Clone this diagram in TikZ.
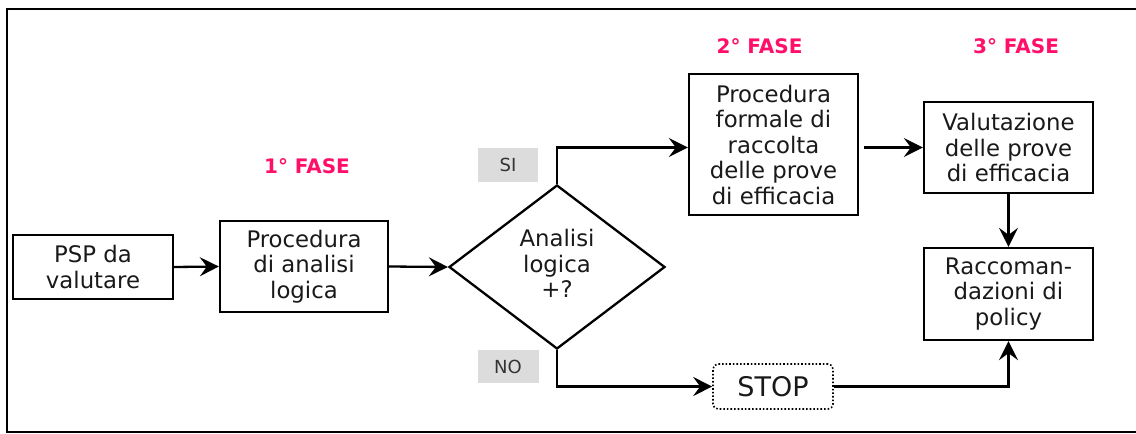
\documentclass[tikz,border=0pt]{standalone}
\usepackage{fontspec}
\setmainfont{DejaVu Sans}
\usetikzlibrary{arrows.meta,shapes.geometric,calc}
\definecolor{phasepink}{RGB}{255,15,105}
\definecolor{tagfill}{RGB}{220,220,220}
\definecolor{inkgray}{RGB}{25,25,25}
\tikzset{
  boxfont/.style={font=\fontsize{22.8}{25.5}\selectfont},
  stepbox/.style={draw=black, line width=2.3pt, align=center, inner sep=0pt,
    text=inkgray, boxfont},
  choice/.style={diamond, draw=black, line width=2.3pt, inner sep=0pt,
    text=inkgray, boxfont, aspect=1.3,
    minimum width=216pt, minimum height=164pt},
  stopbox/.style={draw=black, line width=1.6pt, dotted, rounded corners=5pt,
    inner sep=0pt, text=inkgray, font=\fontsize{27}{30}\selectfont,
    minimum width=120pt, minimum height=45pt},
  tag/.style={fill=tagfill, inner sep=0pt, text=black!80,
    font=\fontsize{18}{20}\selectfont},
  phase/.style={text=phasepink, font=\fontsize{20}{23}\selectfont\bfseries},
  flow/.style={line width=2.3pt, -{Stealth[length=19pt,width=19pt,inset=7pt]}},
}
\begin{document}
\begin{tikzpicture}[x=1pt,y=-1pt]
\useasboundingbox (0,0) rectangle (1136,434);
% outer frame (open on the right)
\draw[line width=2.8pt] (1140,9) -- (7,9) -- (7,432) -- (1140,432);

% phase titles
\node[phase] (f1) at (307,166) {1° FASE};
\node[phase] (f2) at (759.5,46) {2° FASE};
\node[phase] (f3) at (1016,46) {3° FASE};

% process steps
\node[stepbox, minimum width=160pt, minimum height=64pt] (psp) at (93,267)
  {PSP da\\valutare};
\node[stepbox, minimum width=168pt, minimum height=91pt] (proc) at (304,266.5)
  {Procedura\\di analisi\\logica};
\node[choice] (dia) at (557,267)
  {\raisebox{-4pt}{\begin{tabular}{@{}c@{}}Analisi\\logica\\+?\end{tabular}}};
\node[stepbox, minimum width=169pt, minimum height=141pt] (form) at (773.5,144.5)
  {Procedura\\formale di\\raccolta\\delle prove\\di efficacia};
\node[stepbox, minimum width=169pt, minimum height=91pt] (val) at (1008.5,147.5)
  {Valutazione\\delle prove\\di efficacia};
\node[stepbox, minimum width=169pt, minimum height=92pt] (rac) at (1008.5,294)
  {Raccoman-\\dazioni di\\policy};
\node[stopbox] (stop) at (773,386.5) {STOP};

% branch tags
\node[tag, minimum width=60pt, minimum height=34pt] (si) at (508,165) {SI};
\node[tag, minimum width=61pt, minimum height=33pt] (no) at (508,366.5) {NO};

% connectors
\draw[flow] (psp.east) -- (proc.west);
\draw[flow] (proc.east) -- (dia.west);
\draw[flow] (dia.north) |- ($(form.west)+(0,3)$);
\draw[flow] ($(form.east |- val.west)+(5,0)$) -- (val.west);
\draw[flow] (val.south) -- (rac.north);
\draw[flow] (dia.south) |- (stop.west);
\draw[flow] (stop.east) -| (rac.south);
\end{tikzpicture}
\end{document}
